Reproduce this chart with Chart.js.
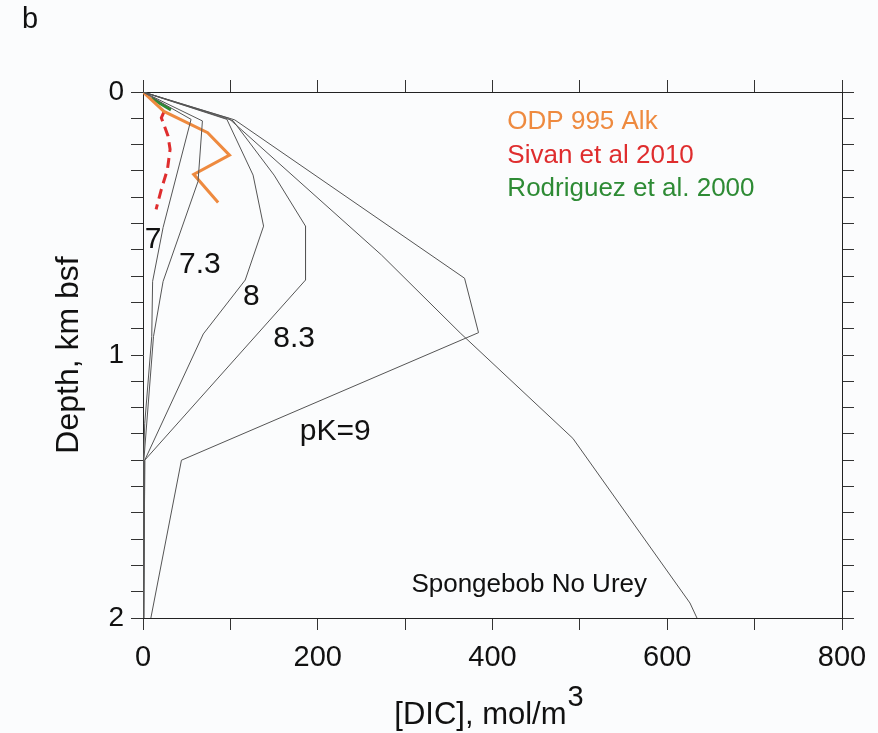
<!DOCTYPE html>
<html>
<head>
<meta charset="utf-8">
<script src="https://cdn.jsdelivr.net/npm/chart.js@4.4.1/dist/chart.umd.min.js"></script>
<style>
  html, body { margin: 0; padding: 0; background: #fbfcfd; }
  #wrap { width: 878px; height: 733px; }
</style>
</head>
<body>
<div id="wrap"><canvas id="dicChart" width="878" height="733"></canvas></div>
<script>
// model DIC profiles (mol/m3) against depth (km bsf), one pair per pK curve
const dic70 = [0, 55, 23, 11, 10, 2, 0.5, 0.5];
const dep70 = [0, 0.104, 0.515, 0.72, 0.93, 1.26, 1.40, 2.0];
const dic73 = [0, 68, 63, 23, 12, 1, 0.5];
const dep73 = [0, 0.11, 0.34, 0.72, 0.93, 1.40, 2.0];
const dic80 = [0, 96, 126, 138, 117, 69, 2, 1];
const dep80 = [0, 0.104, 0.316, 0.51, 0.715, 0.92, 1.40, 2.0];
const dic83 = [0, 103, 150, 186, 186, 2, 1];
const dep83 = [0, 0.109, 0.316, 0.51, 0.715, 1.40, 2.0];
const dic90 = [0, 105, 368, 384, 44, 9];
const dep90 = [0, 0.106, 0.708, 0.915, 1.40, 2.0];
const dicSponge = [0, 98, 273, 363, 492, 626, 634];
const depSponge = [0, 0.10, 0.62, 0.916, 1.317, 1.943, 2.0];

// observations
const dicOdp = [0, 24, 74, 99, 58, 86];
const depOdp = [0, 0.074, 0.155, 0.24, 0.313, 0.42];
const dicSivan = [24, 21, 28.6, 31, 28, 21, 15];
const depSivan = [0.076, 0.098, 0.167, 0.218, 0.294, 0.37, 0.446];
const dicRod = [9.5, 20, 32];
const depRod = [0.022, 0.045, 0.068];

const xTicks = [0, 200, 400, 600, 800];
const yTicks = [0, 1, 2];

// text placed in data units
const curveLabels = [
  { text: "7", x: 11.5, y: 0.563 },
  { text: "7.3", x: 65, y: 0.658 },
  { text: "8", x: 124, y: 0.78 },
  { text: "8.3", x: 173, y: 0.94 },
  { text: "pK=9", x: 220, y: 1.29 }
];
const legendLabels = [
  { text: "ODP 995 Alk", color: "#ee8a3f", y: 0.114 },
  { text: "Sivan et al 2010", color: "#df2d2e", y: 0.243 },
  { text: "Rodriguez et al. 2000", color: "#2e8b35", y: 0.369 }
];

const FONT = '"Liberation Sans", Arial, sans-serif';

function pts(xs, ys) {
  return xs.map((v, i) => ({ x: v, y: ys[i] }));
}

function modelSet(xs, ys) {
  return {
    data: pts(xs, ys),
    showLine: true,
    borderColor: "#555",
    borderWidth: 1,
    pointRadius: 0,
    tension: 0
  };
}

const figText = {
  id: "figText",
  beforeDraw(chart) {
    const ctx = chart.ctx;
    ctx.save();
    ctx.fillStyle = "#fbfcfd";
    ctx.fillRect(0, 0, chart.width, chart.height);
    ctx.restore();
  },
  afterDraw(chart) {
    const { ctx, chartArea, scales: { x, y } } = chart;
    ctx.save();
    ctx.fillStyle = "#111";
    ctx.textBaseline = "middle";

    ctx.font = "30px " + FONT;
    ctx.textAlign = "center";
    curveLabels.forEach(l => {
      ctx.fillText(l.text, x.getPixelForValue(l.x), y.getPixelForValue(l.y));
    });

    ctx.font = "26px " + FONT;
    ctx.textAlign = "left";
    legendLabels.forEach(l => {
      ctx.fillStyle = l.color;
      ctx.fillText(l.text, x.getPixelForValue(417), y.getPixelForValue(l.y));
    });
    ctx.fillStyle = "#111";
    ctx.textAlign = "center";
    ctx.fillText("Spongebob No Urey", x.getPixelForValue(442), y.getPixelForValue(1.875));

    // panel letter
    ctx.font = "29px " + FONT;
    ctx.textAlign = "left";
    ctx.fillText("b", 22, 20);

    // x title with superscript
    ctx.textBaseline = "alphabetic";
    ctx.font = "31px " + FONT;
    const main = "[DIC], mol/m";
    const wMain = ctx.measureText(main).width;
    ctx.font = "29px " + FONT;
    const wSup = ctx.measureText("3").width;
    const cx = (chartArea.left + chartArea.right) / 2 - 4;
    const left = cx - (wMain + wSup) / 2;
    ctx.font = "31px " + FONT;
    ctx.fillText(main, left, 724);
    ctx.font = "29px " + FONT;
    ctx.fillText("3", left + wMain + 1, 706);

    // y title
    ctx.translate(69, (chartArea.top + chartArea.bottom) / 2);
    ctx.rotate(-Math.PI / 2);
    ctx.textAlign = "center";
    ctx.textBaseline = "middle";
    ctx.font = "32px " + FONT;
    ctx.fillText("Depth, km bsf", 0, 0);
    ctx.restore();
  }
};

const axisGrid = {
  drawOnChartArea: false,
  drawTicks: true,
  tickLength: 12,
  color: "#333",
  lineWidth: 1
};
const axisBorder = { display: true, color: "#222", width: 1 };

new Chart(document.getElementById("dicChart"), {
  type: "scatter",
  data: {
    datasets: [
      modelSet(dic70, dep70),
      modelSet(dic73, dep73),
      modelSet(dic80, dep80),
      modelSet(dic83, dep83),
      modelSet(dic90, dep90),
      modelSet(dicSponge, depSponge),
      {
        data: pts(dicOdp, depOdp),
        showLine: true,
        borderColor: "#ee8a3f",
        borderWidth: 3,
        pointRadius: 0
      },
      {
        data: pts(dicSivan, depSivan),
        showLine: true,
        borderColor: "#df2d2e",
        borderWidth: 3,
        borderDash: [10, 6],
        pointRadius: 0
      },
      {
        data: pts(dicRod, depRod),
        showLine: true,
        borderColor: "#2e8b35",
        borderWidth: 3,
        pointRadius: 0
      }
    ]
  },
  options: {
    responsive: false,
    animation: false,
    events: [],
    layout: { padding: { top: 80, right: 24, left: 0, bottom: 0 } },
    plugins: {
      legend: { display: false },
      tooltip: { enabled: false }
    },
    scales: {
      x: {
        type: "linear",
        position: "bottom",
        min: 0,
        max: 800,
        grid: axisGrid,
        border: axisBorder,
        ticks: {
          stepSize: 100,
          padding: 11,
          color: "#111",
          font: { family: FONT, size: 29 },
          maxRotation: 0,
          autoSkip: false,
          callback: v => (xTicks.includes(v) ? String(v) : "")
        },
        afterFit: s => { s.height = 115; }
      },
      x2: {
        type: "linear",
        position: "top",
        min: 0,
        max: 800,
        grid: axisGrid,
        border: axisBorder,
        ticks: { stepSize: 100, display: false },
        afterFit: s => { s.height = 12; }
      },
      y: {
        type: "linear",
        position: "left",
        reverse: true,
        min: 0,
        max: 2,
        grid: axisGrid,
        border: axisBorder,
        ticks: {
          stepSize: 0.1,
          padding: 7,
          color: "#111",
          font: { family: FONT, size: 28 },
          autoSkip: false,
          callback: v => {
            const r = Math.round(v);
            return Math.abs(v - r) < 1e-6 && yTicks.includes(r) ? String(r) : "";
          }
        },
        afterFit: s => { s.width = 143; }
      },
      y2: {
        type: "linear",
        position: "right",
        reverse: true,
        min: 0,
        max: 2,
        grid: axisGrid,
        border: axisBorder,
        ticks: { stepSize: 0.1, display: false },
        afterFit: s => { s.width = 12; }
      }
    }
  },
  plugins: [figText]
});
</script>
</body>
</html>
